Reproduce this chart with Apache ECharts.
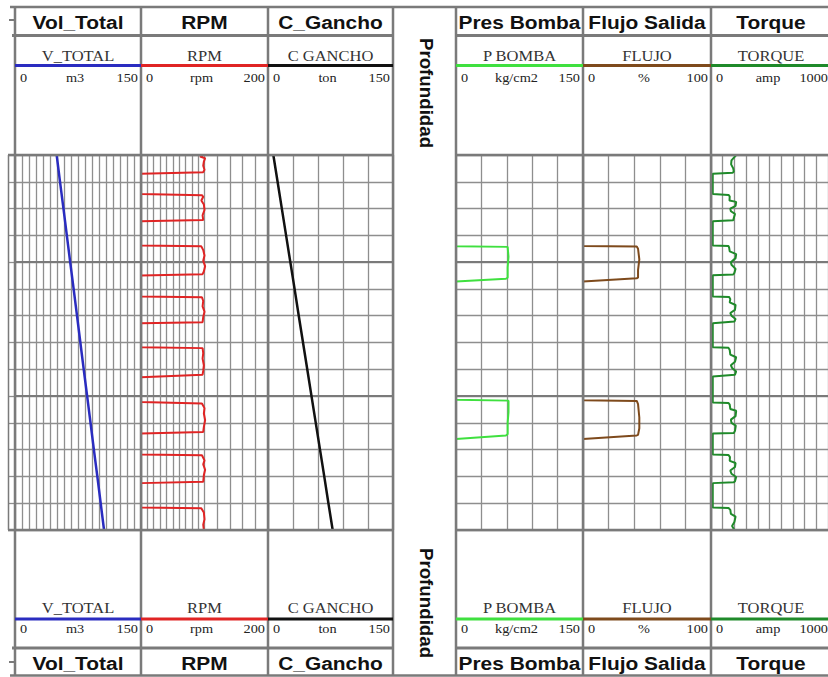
<!DOCTYPE html>
<html>
<head>
<meta charset="utf-8">
<script src="https://cdn.jsdelivr.net/npm/echarts/dist/echarts.min.js"></script>
<style>
html,body{margin:0;padding:0;background:#fff;}
#chart{width:828px;height:677px;}
</style>
</head>
<body>
<div id="chart"></div>
<script>
// ---- Depth range (m) ----
const depthTop = 1996;
const depthBottom = 2010;
const depthStep = 1;
const depthMajor = [2000, 2005];
const depthTitle = 'Profundidad';

// ---- Track headers ----
const trackTitles = ['Vol_Total', 'RPM', 'C_Gancho', 'Pres Bomba', 'Flujo Salida', 'Torque'];
const curveNames = ['V_TOTAL', 'RPM', 'C GANCHO', 'P BOMBA', 'FLUJO', 'TORQUE'];
const curveUnits = ['m3', 'rpm', 'ton', 'kg/cm2', '%', 'amp'];
const scaleMin = [0, 0, 0, 0, 0, 0];
const scaleMax = [150, 200, 150, 150, 100, 1000];
const rpmFineTicks = [10, 30, 50, 70, 90];

// ---- Curves: depth (m) and reading ----
const volDepth = [1996, 1997, 1998, 1999, 2000, 2001, 2002, 2003, 2004, 2005, 2006, 2007, 2008, 2009, 2010];
const volValue = [49.6, 53.6, 57.7, 61.7, 65.7, 69.8, 73.8, 77.8, 81.8, 85.9, 89.9, 93.9, 98.0, 102.0, 106.0];

const rpmDepth = [1996.00, 1996.06, 1996.12, 1996.25, 1996.40, 1996.55, 1996.64, 1996.70,
  1997.46, 1997.50, 1997.56, 1997.70, 1997.85, 1998.05, 1998.25, 1998.43, 1998.47,
  1999.38, 1999.41, 1999.55, 1999.75, 1999.95, 2000.15, 2000.35, 2000.45, 2000.50,
  2001.28, 2001.31, 2001.45, 2001.65, 2001.85, 2002.05, 2002.24, 2002.28,
  2003.18, 2003.21, 2003.40, 2003.60, 2003.85, 2004.05, 2004.20, 2004.30,
  2005.22, 2005.28, 2005.45, 2005.65, 2005.90, 2006.15, 2006.34, 2006.40,
  2007.18, 2007.21, 2007.40, 2007.55, 2007.75, 2007.95, 2008.20, 2008.25,
  2009.16, 2009.19, 2009.35, 2009.60, 2009.80, 2010.00];
const rpmValue = [98, 93, 101, 99, 98, 100, 98, 0,
  0, 96, 98, 95, 99, 100, 97, 98, 0,
  0, 95, 98, 100, 98, 101, 99, 97, 0,
  0, 96, 98, 97, 100, 98, 97, 0,
  0, 97, 98, 97, 99, 98, 97, 0,
  0, 96, 100, 99, 101, 99, 98, 0,
  0, 96, 100, 98, 101, 99, 98, 0,
  0, 95, 99, 100, 98, 99];

const ganDepth = [1996, 1997, 1998, 1999, 2000, 2001, 2002, 2003, 2004, 2005, 2006, 2007, 2008, 2009, 2010];
const ganValue = [6.4, 11.5, 16.6, 21.7, 26.8, 31.9, 36.9, 42.0, 47.1, 52.2, 57.3, 62.4, 67.5, 72.5, 77.6];

const presDepth = [1996.00, 1999.41, 1999.43, 1999.80, 2000.20, 2000.58, 2000.62, 2000.72,
  2005.14, 2005.17, 2005.60, 2006.00, 2006.42, 2006.47, 2006.60, 2010.00];
const presValue = [0, 0, 61, 62, 61, 61, 59, 0,
  0, 62, 62, 61, 61, 59, 0, 0];

const flujoDepth = [1996.00, 1999.40, 1999.42, 1999.50, 1999.90, 2000.30, 2000.58, 2000.60, 2000.72,
  2005.16, 2005.18, 2005.30, 2005.80, 2006.20, 2006.45, 2006.47, 2006.60, 2010.00];
const flujoValue = [0, 0, 42, 43, 44, 43, 43, 42, 0,
  0, 42, 43, 44, 44, 43, 42, 0, 0];

const torqueDepth = [1996.00, 1996.08, 1996.20, 1996.35, 1996.50, 1996.62, 1996.66, 1996.70,
  1997.46, 1997.49, 1997.55, 1997.70, 1997.75, 1997.90, 1998.00, 1998.10, 1998.20, 1998.35, 1998.44, 1998.47,
  1999.38, 1999.40, 1999.46, 1999.60, 1999.70, 1999.85, 2000.00, 2000.10, 2000.25, 2000.40, 2000.46, 2000.49,
  2001.28, 2001.30, 2001.38, 2001.50, 2001.60, 2001.78, 2001.90, 2002.00, 2002.12, 2002.22, 2002.28,
  2003.18, 2003.20, 2003.28, 2003.45, 2003.55, 2003.72, 2003.85, 2003.95, 2004.08, 2004.20, 2004.27,
  2005.24, 2005.26, 2005.32, 2005.48, 2005.55, 2005.75, 2005.88, 2006.00, 2006.10, 2006.30, 2006.38, 2006.40,
  2007.18, 2007.20, 2007.28, 2007.42, 2007.50, 2007.65, 2007.78, 2007.90, 2008.02, 2008.18, 2008.22, 2008.25,
  2009.16, 2009.18, 2009.25, 2009.40, 2009.50, 2009.70, 2009.85, 2010.00];
const torqueValue = [215, 200, 175, 172, 190, 195, 185, 15,
  15, 150, 160, 158, 215, 210, 165, 170, 205, 195, 190, 15,
  15, 150, 155, 160, 215, 210, 170, 175, 210, 200, 190, 15,
  15, 155, 165, 160, 210, 205, 165, 175, 210, 200, 15,
  15, 150, 160, 165, 215, 205, 170, 180, 215, 205, 15,
  15, 150, 160, 165, 215, 210, 170, 175, 212, 205, 195, 15,
  15, 150, 162, 160, 210, 205, 165, 175, 215, 205, 195, 15,
  15, 150, 165, 170, 210, 200, 180, 200];

// ---- Layout and styling ----
const trackLeft = [15, 141, 268, 456, 583, 711];
const trackWidth = [126, 127, 125, 127, 128, 120];
const trackDivisions = [18, 10, 5, 5, 5, 10];
const curveColors = ['#2a2cc0', '#e02424', '#111111', '#3fe03f', '#7e4a1c', '#1f8a2a'];
const curveWidths = [2.5, 2, 2.5, 2, 2, 2];
const plotTop = 155, plotHeight = 375, plotBottom = plotTop + plotHeight;
const gridColor = '#8e8e8e';
const borderColor = '#7a7a7a';
const depthColLeft = 393, depthColRight = 456;

const curveData = [
  [volDepth, volValue], [rpmDepth, rpmValue], [ganDepth, ganValue],
  [presDepth, presValue], [flujoDepth, flujoValue], [torqueDepth, torqueValue]
];

const hidden = { show: false };
const grids = [], xAxes = [], yAxes = [], series = [];

trackTitles.forEach((t, i) => {
  grids.push({ left: trackLeft[i], top: plotTop, width: trackWidth[i], height: plotHeight, containLabel: false });
  xAxes.push({
    gridIndex: i, type: 'value', min: scaleMin[i], max: scaleMax[i],
    interval: (scaleMax[i] - scaleMin[i]) / trackDivisions[i],
    axisLine: hidden, axisTick: hidden, axisLabel: hidden,
    splitLine: { show: true, lineStyle: { color: gridColor, width: 1.3 } }
  });
  yAxes.push({
    gridIndex: i, type: 'value', inverse: true, min: depthTop, max: depthBottom, interval: depthStep,
    axisLine: hidden, axisTick: hidden, axisLabel: hidden,
    splitLine: { show: true, lineStyle: { color: gridColor, width: 1.3 } }
  });
  // heavier depth lines every 5 m (and the extra fine RPM lines)
  const marks = depthMajor.map(d => ({ yAxis: d }));
  if (i === 1) {
    rpmFineTicks.forEach(v => marks.push({ xAxis: v, lineStyle: { color: gridColor, width: 1.3, type: 'solid' } }));
  }
  series.push({
    type: 'line', xAxisIndex: i, yAxisIndex: i, data: [], z: 1, silent: true, animation: false,
    markLine: {
      silent: true, animation: false, symbol: ['none', 'none'], label: { show: false },
      lineStyle: { color: borderColor, width: 2.2, type: 'solid' },
      emphasis: { disabled: true },
      data: marks
    }
  });
  const [dep, val] = curveData[i];
  series.push({
    name: curveNames[i], type: 'line', xAxisIndex: i, yAxisIndex: i,
    data: val.map((v, k) => [v, dep[k]]),
    showSymbol: false, symbol: 'none', clip: true, z: 5, animation: false, silent: true,
    lineStyle: { color: curveColors[i], width: curveWidths[i] }
  });
});

// narrow strip left of the first track
const stripIdx = grids.length;
grids.push({ left: 8, top: plotTop, width: 7, height: plotHeight });
xAxes.push({ gridIndex: stripIdx, type: 'value', min: 0, max: 1, show: false, splitLine: hidden });
yAxes.push({
  gridIndex: stripIdx, type: 'value', inverse: true, min: depthTop, max: depthBottom, interval: depthStep,
  axisLine: hidden, axisTick: hidden, axisLabel: hidden,
  splitLine: { show: true, lineStyle: { color: gridColor, width: 1.3 } }
});

// ---- Frame, headers and text ----
const g = [];
function line(x1, y1, x2, y2, color, w) {
  g.push({ type: 'line', z: 100, silent: true, shape: { x1, y1, x2, y2 }, style: { stroke: color, lineWidth: w } });
}
function text(x, y, str, font, fill, align, opts) {
  g.push(Object.assign({
    type: 'text', z: 101, silent: true, x, y, scaleX: 1.1,
    style: { text: str, font, fill, align, textAlign: align, verticalAlign: 'middle', textVerticalAlign: 'middle' }
  }, opts || {}));
}

const frameRight = 828;
const lastRight = trackLeft[5] + trackWidth[5];
// horizontal rules
line(10, 7, frameRight, 7, borderColor, 2.5);
line(10, 675.5, frameRight, 675.5, borderColor, 2.5);
[[12, 35.5], [8, plotTop], [8, plotBottom], [12, 648]].forEach(([x0, y]) => {
  line(x0, y, depthColLeft, y, borderColor, y === 35.5 || y === 648 ? 3 : 2.5);
  line(depthColRight, y, frameRight, y, borderColor, y === 35.5 || y === 648 ? 3 : 2.5);
});
// vertical rules
const vx = trackLeft.concat([depthColLeft, lastRight]);
vx.forEach(x => line(x, 6, x, 676, borderColor, 2.5));
line(8.5, plotTop, 8.5, plotBottom, borderColor, 1.5);
line(9, 20, 15, 20, borderColor, 2);
line(9, 662, 15, 662, borderColor, 2);

const titleFont = 'bold 19px "Liberation Sans", Arial, sans-serif';
const nameFont = '15px "Liberation Serif", "Times New Roman", serif';
const scaleFont = '13px "Liberation Serif", "Times New Roman", serif';

trackTitles.forEach((t, i) => {
  const l = trackLeft[i], r = l + trackWidth[i], c = (l + r) / 2;
  // titles
  text(c, 22, t, titleFont, '#111', 'center');
  text(c, 663, t, titleFont, '#111', 'center');
  // curve names
  text(c, 55.5, curveNames[i], nameFont, '#333', 'center');
  text(c, 608, curveNames[i], nameFont, '#333', 'center');
  // colour keys
  line(l, 65.5, r, 65.5, curveColors[i], 3);
  line(l, 619, r, 619, curveColors[i], 3);
  // scales
  [77.5, 628.5].forEach(y => {
    text(l + 5, y, String(scaleMin[i]), scaleFont, '#222', 'left');
    text(c - 3, y, curveUnits[i], scaleFont, '#222', 'center');
    text(r - 3, y, String(scaleMax[i]), scaleFont, '#222', 'right');
  });
});

// depth column captions
const depthX = (depthColLeft + depthColRight) / 2 + 2;
text(depthX, 93, depthTitle, 'bold 18px "Liberation Sans", Arial, sans-serif', '#111', 'center', { rotation: -Math.PI / 2, scaleX: 1.04 });
text(depthX, 603, depthTitle, 'bold 18px "Liberation Sans", Arial, sans-serif', '#111', 'center', { rotation: -Math.PI / 2, scaleX: 1.04 });

const chart = echarts.init(document.getElementById('chart'), null, { renderer: 'svg' });
chart.setOption({
  backgroundColor: '#ffffff',
  animation: false,
  grid: grids,
  xAxis: xAxes,
  yAxis: yAxes,
  series: series,
  graphic: { elements: g }
});
</script>
</body>
</html>
